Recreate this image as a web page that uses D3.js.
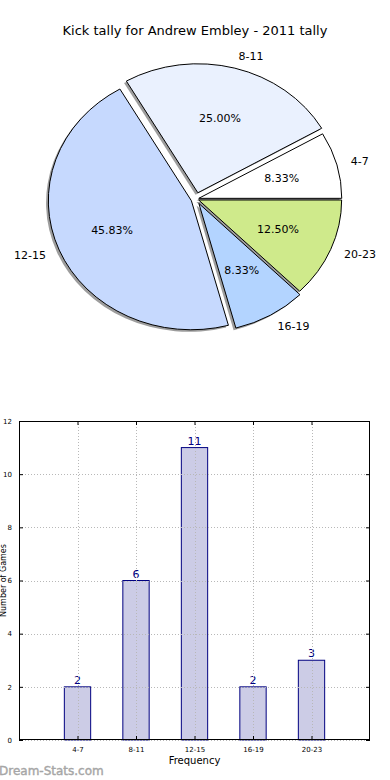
<!DOCTYPE html>
<html><head><meta charset="utf-8">
<script src="https://cdn.jsdelivr.net/npm/d3@7"></script>
<style>
html,body{margin:0;padding:0;background:#fff;}
svg{display:block;font-family:"DejaVu Sans",sans-serif;}
</style></head>
<body>
<svg id="c" width="390" height="780"></svg>
<script>
const categories = ["4-7","8-11","12-15","16-19","20-23"];
const counts = [2,6,11,2,3];
const sliceColors = ["#ffffff","#eaf1fe","#c6d9fe","#b3d4ff","#cfea8b"];
const explode = [0.02,0.05,0.035,0.04,0.02];
const yTicks = [0,2,4,6,8,10,12];
const title = "Kick tally for Andrew Embley - 2011 tally";
const xLabel = "Frequency";
const yLabel = "Number of Games";
const watermark = "Dream-Stats.com";

const svg = d3.select("#c");

// ---------- Pie ----------
svg.append("text").attr("x",195).attr("y",35).attr("text-anchor","middle")
  .attr("font-size",13).attr("fill","#000").text(title);

const cx = 196, cy = 199, rx = 143, ry = 129;
const total = d3.sum(counts);
const angles = [];
let acc = 0;
counts.forEach((v,i)=>{ const a0 = acc/total*2*Math.PI; acc += v; const a1 = acc/total*2*Math.PI; angles.push({i, a0, a1, v}); });

const arcGen = d3.arc().innerRadius(0).outerRadius(1);
const pieG = svg.append("g");
const sx = d3.scaleLinear().domain([-1,1]).range([cx-rx, cx+rx]);
const sy = d3.scaleLinear().domain([-1,1]).range([cy+ry, cy-ry]);

angles.forEach(s=>{
  const mid = (s.a0+s.a1)/2;
  const ox = explode[s.i]*Math.cos(mid), oy = explode[s.i]*Math.sin(mid);
  const d = arcGen({startAngle: Math.PI/2 - s.a1, endAngle: Math.PI/2 - s.a0});
  pieG.append("path").attr("d", d)
    .attr("transform", `translate(${sx(ox-0.016)},${sy(oy-0.016)}) scale(${rx},${ry})`)
    .attr("fill", "#3c3c3c").attr("fill-opacity",0.5)
    .attr("stroke","none");
});
angles.forEach(s=>{
  const mid = (s.a0+s.a1)/2;
  const ox = explode[s.i]*Math.cos(mid), oy = explode[s.i]*Math.sin(mid);
  const d = arcGen({startAngle: Math.PI/2 - s.a1, endAngle: Math.PI/2 - s.a0});
  pieG.append("path").attr("d", d)
    .attr("transform", `translate(${sx(ox)},${sy(oy)}) scale(${rx},${ry})`)
    .attr("fill", sliceColors[s.i]).attr("stroke","#000").attr("stroke-width",1)
    .attr("vector-effect","non-scaling-stroke").attr("stroke-linejoin","round");
  const lx = ox + 1.1*Math.cos(mid), ly = oy + 1.1*Math.sin(mid);
  pieG.append("text").attr("x", sx(lx)).attr("y", sy(ly)).attr("dy","0.35em")
    .attr("text-anchor", Math.cos(mid) > 0 ? "start" : "end")
    .attr("font-size",11).attr("fill","#000").text(categories[s.i]);
  const px = ox + 0.6*Math.cos(mid), py = oy + 0.6*Math.sin(mid);
  pieG.append("text").attr("x", sx(px)).attr("y", sy(py)).attr("dy","0.35em")
    .attr("text-anchor","middle").attr("font-size",11).attr("fill","#000")
    .text((s.v/total*100).toFixed(2)+"%");
});

// ---------- Bar chart ----------
const L = 19, R = 370, T = 421, B = 740;
const x = d3.scaleLinear().domain([0,6]).range([L,R]);
const y = d3.scaleLinear().domain([0,12]).range([B,T]);
const bw = 0.45;
const barG = svg.append("g");

barG.selectAll("rect.bar").data(counts).join("rect").attr("class","bar")
  .attr("x",(d,i)=>x(i+1-bw/2)).attr("width",x(bw)-x(0))
  .attr("y",d=>y(d)).attr("height",d=>y(0)-y(d))
  .attr("fill","#ccccE6").attr("stroke","#000080").attr("stroke-width",1);

const gridG = svg.append("g").attr("stroke","#b8b8b8").attr("stroke-width",1).attr("stroke-dasharray","1,2");
yTicks.forEach(t=>{ gridG.append("line").attr("x1",L).attr("x2",R).attr("y1",Math.round(y(t))+0.5).attr("y2",Math.round(y(t))+0.5); });
categories.forEach((c,i)=>{ gridG.append("line").attr("x1",Math.round(x(i+1))+0.5).attr("x2",Math.round(x(i+1))+0.5).attr("y1",T).attr("y2",B); });

svg.append("rect").attr("x",L+0.5).attr("y",T+0.5).attr("width",R-L-1).attr("height",B-T-1)
  .attr("fill","none").attr("stroke","#000").attr("stroke-width",1);

const yAxis = d3.axisLeft(y).tickValues(yTicks).tickSize(-4).tickPadding(7).tickFormat(d3.format("d"));
const yg = svg.append("g").attr("transform",`translate(${L},0)`).call(yAxis);
yg.select(".domain").remove();
yg.selectAll("text").attr("font-size",7).attr("font-family","DejaVu Sans");
yg.selectAll("line").attr("stroke","#000");

const xAxis = d3.axisBottom(x).tickValues([1,2,3,4,5]).tickFormat((d)=>categories[d-1]).tickSize(-4).tickPadding(7);
const xg = svg.append("g").attr("transform",`translate(0,${B})`).call(xAxis);
xg.select(".domain").remove();
xg.selectAll("text").attr("font-size",7).attr("font-family","DejaVu Sans");
xg.selectAll("line").attr("stroke","#000");

const xTop = d3.axisTop(x).tickValues([1,2,3,4,5]).tickSize(-4).tickFormat("");
const xtg = svg.append("g").attr("transform",`translate(0,${T})`).call(xTop);
xtg.select(".domain").remove(); xtg.selectAll("line").attr("stroke","#000");
const yRight = d3.axisRight(y).tickValues(yTicks).tickSize(-4).tickFormat("");
const yrg = svg.append("g").attr("transform",`translate(${R},0)`).call(yRight);
yrg.select(".domain").remove(); yrg.selectAll("line").attr("stroke","#000");

barG.selectAll("text.val").data(counts).join("text").attr("class","val")
  .attr("x",(d,i)=>x(i+1)).attr("y",d=>y(d)-3).attr("text-anchor","middle")
  .attr("font-size",11).attr("fill","#000080").text(d=>d);

svg.append("text").attr("x",(L+R)/2).attr("y",764).attr("text-anchor","middle")
  .attr("font-size",10).attr("fill","#000").text(xLabel);
svg.append("text").attr("transform",`translate(6,${(T+B)/2}) rotate(-90)`).attr("text-anchor","middle")
  .attr("font-size",8).attr("fill","#000").text(yLabel);

svg.append("text").attr("x",-1).attr("y",775).attr("font-size",12)
  .attr("fill","#a6a6a6").attr("stroke","#a6a6a6").attr("stroke-width",0.4).text(watermark);
</script>
</body></html>
